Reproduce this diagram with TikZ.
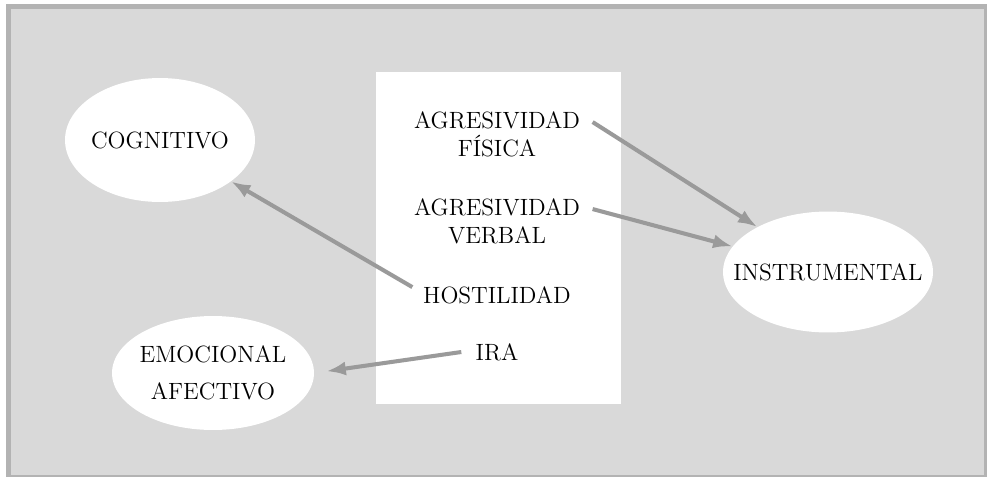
\documentclass[tikz,border=0pt]{standalone}
\usetikzlibrary{arrows.meta, shapes.geometric}
\definecolor{framegray}{HTML}{B3B3B3}
\definecolor{backgray}{HTML}{D9D9D9}
\definecolor{arrowgray}{HTML}{9A9A9A}
\tikzset{
  aspect/.style={ellipse, fill=white, inner sep=0pt, align=center},
  item/.style={align=center, inner sep=2pt},
  link/.style={draw=arrowgray, line width=2.3pt, -{Latex[length=11pt,width=8pt]}}
}
\newcommand{\nowidth}[1]{\makebox[0pt][c]{#1}}
\begin{document}
\begin{tikzpicture}[x=0.02cm, y=-0.02cm, font=\fontsize{13.4}{16}\selectfont]

\useasboundingbox (0,0) rectangle (987,477);
\fill[framegray] (6,4) rectangle (987,477);
\fill[backgray] (11,9) rectangle (984,475);
\fill[white] (376,72) rectangle (621,404);

\node[aspect, minimum width=3.8cm, minimum height=2.48cm] (cog) at (160,140) {\nowidth{COGNITIVO}};
\node[aspect, minimum width=4.2cm, minimum height=2.42cm] (instr) at (828,272) {\nowidth{INSTRUMENTAL}};
\node[aspect, minimum width=4.04cm, minimum height=2.28cm] (emo) at (213,373) {\nowidth{EMOCIONAL}\\[5pt]\nowidth{AFECTIVO}};

\node[item] (fisica) at (497,134) {AGRESIVIDAD\\FÍSICA};
\node[item] (verbal) at (497,221) {AGRESIVIDAD\\VERBAL};
\node[item] (host) at (497,295) {HOSTILIDAD};
\node[item] (ira) at (497,352) {IRA};

\draw[link] ([xshift=5pt, yshift=6.8pt]fisica.east) -- (instr);
\draw[link] ([xshift=5pt, yshift=6.8pt]verbal.east) -- (instr);
\draw[link] ([xshift=-4pt, yshift=4.5pt]host.west) -- (cog);
\draw[link, shorten >=7pt] ([xshift=-6pt]ira.west) -- (emo.east);

\end{tikzpicture}
\end{document}
